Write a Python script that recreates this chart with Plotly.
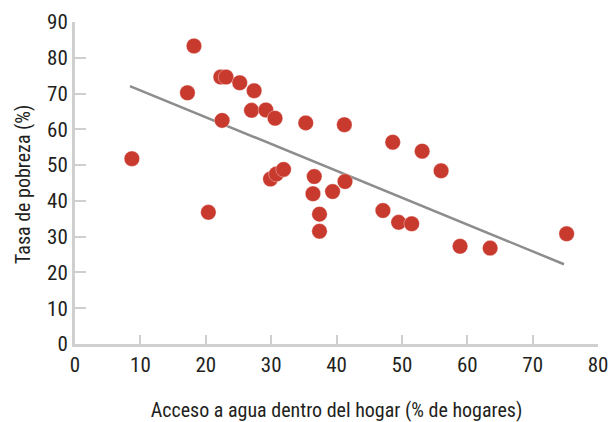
import plotly.graph_objects as go

# Access to piped water inside the home (% of households) vs. poverty rate (%)
acceso_agua = [8.7, 18.2, 17.2, 22.3, 23.1, 25.2, 27.4, 27.0, 29.2, 30.6, 22.5,
               35.3, 41.2, 48.6, 53.1, 56.0, 20.4, 29.9, 30.8, 31.9, 36.6, 36.4,
               39.4, 41.3, 37.4, 37.4, 47.1, 49.5, 51.5, 58.9, 63.5, 75.2]
tasa_pobreza = [51.8, 83.3, 70.2, 74.6, 74.6, 73.0, 70.8, 65.3, 65.4, 63.1, 62.5,
                61.8, 61.3, 56.4, 53.9, 48.4, 36.8, 46.1, 47.5, 48.8, 46.8, 42.0,
                42.6, 45.4, 36.3, 31.5, 37.3, 34.0, 33.6, 27.3, 26.8, 30.8]

# Linear trend endpoints
tendencia_x = [8.4, 74.8]
tendencia_y = [72.1, 22.3]

x_ticks = [0, 10, 20, 30, 40, 50, 60, 70, 80]
y_ticks = [0, 10, 20, 30, 40, 50, 60, 70, 80, 90]

FONT = "Roboto Condensed, Open Sans, sans-serif"
AXIS_GREY = "#cfcfcf"
TEXT = "#231f20"

fig = go.Figure()
fig.add_trace(go.Scatter(
    x=tendencia_x, y=tendencia_y, mode="lines",
    line=dict(color="#8d8d8d", width=2.5),
    hoverinfo="skip", showlegend=False,
))
fig.add_trace(go.Scatter(
    x=acceso_agua, y=tasa_pobreza, mode="markers",
    marker=dict(color="#c8392e", size=15.5, line=dict(color="rgba(255,255,255,0.6)", width=0.6)),
    showlegend=False,
))

fig.update_layout(
    width=610, height=422,
    margin=dict(l=75, r=12, t=22, b=78),
    paper_bgcolor="white", plot_bgcolor="white",
    font=dict(family=FONT, color=TEXT, size=21),
)
fig.update_xaxes(
    range=[0, 80], tickvals=x_ticks, ticktext=[str(v) for v in x_ticks],
    automargin=False,
    showgrid=False, zeroline=False,
    showline=True, linecolor=AXIS_GREY, linewidth=3,
    ticks="inside", ticklen=9, tickwidth=2, tickcolor=AXIS_GREY,
    tickfont=dict(family=FONT, size=21, color=TEXT),
    title=dict(text="Acceso a agua dentro del hogar (% de hogares)",
               font=dict(family=FONT, size=20, color=TEXT), standoff=32),
)
fig.update_yaxes(
    range=[0, 90], tickvals=y_ticks, ticktext=[str(v) for v in y_ticks],
    automargin=False,
    showgrid=False, zeroline=False,
    showline=True, linecolor=AXIS_GREY, linewidth=3,
    ticks="inside", ticklen=11, tickwidth=2, tickcolor=AXIS_GREY,
    tickfont=dict(family=FONT, size=21, color=TEXT),
)

# Vertical axis title, placed left of the tick labels
fig.add_annotation(
    text="Tasa de pobreza (%)", textangle=-90,
    xref="paper", yref="paper", x=0, y=0.5,
    xanchor="center", yanchor="middle", xshift=-52, yshift=-2,
    showarrow=False, font=dict(family=FONT, size=20, color=TEXT),
)

fig.write_html("out.html")
